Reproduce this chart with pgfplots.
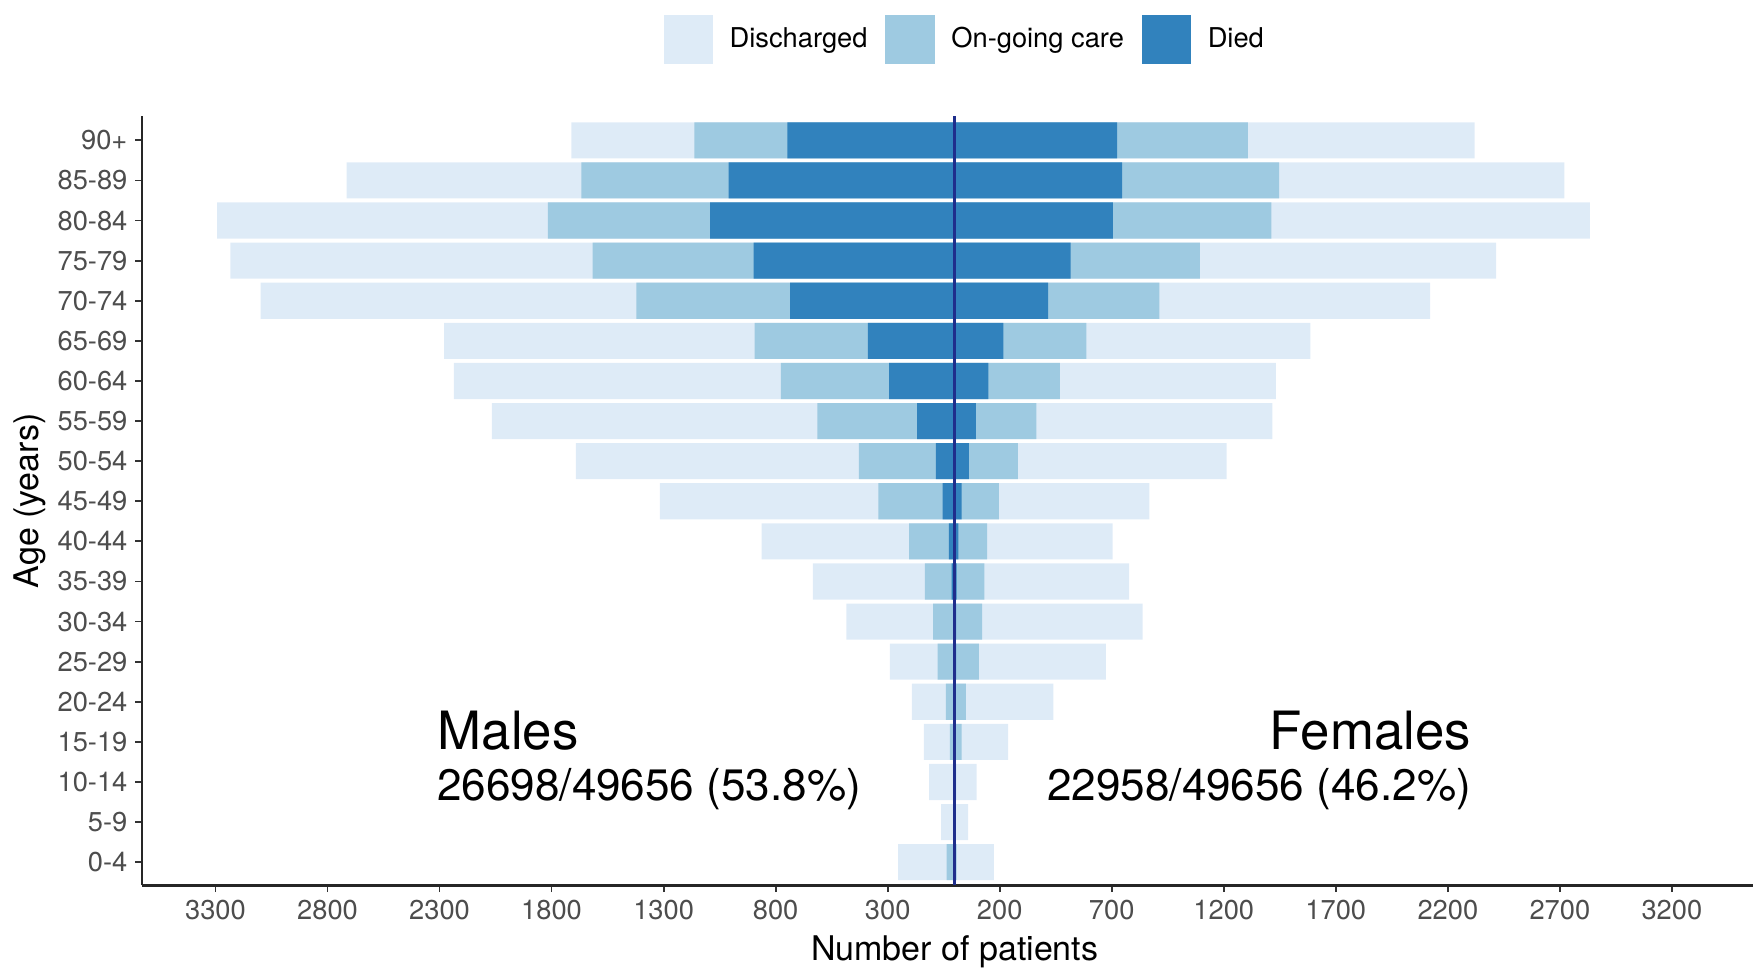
\documentclass[border=0pt]{standalone}
\usepackage{fontspec}
\setmainfont{TeX Gyre Heros}
\usepackage{pgfplots}
\pgfplotsset{compat=1.18}
\usepackage{pgfplotstable}
\definecolor{cdis}{HTML}{DEEBF7}
\definecolor{ccare}{HTML}{9ECAE1}
\definecolor{cdied}{HTML}{3182BD}
\definecolor{cline}{HTML}{1F2E8C}
\definecolor{tickgrey}{HTML}{4D4D4D}

% cumulative bar edges: died, died+on-going, total
\pgfplotstableread{
age died care total
0 3 37 253
1 1 5 62
2 2 8 115
3 3 22 138
4 4 40 192
5 5 77 290
6 8 97 484
7 15 134 634
8 27 204 863
9 55 342 1317
10 85 429 1692
11 169 614 2066
12 294 777 2236
13 388 894 2280
14 735 1422 3099
15 898 1617 3234
16 1092 1816 3293
17 1010 1667 2715
18 748 1163 1712
}\males

\pgfplotstableread{
age died care total
0 3 8 174
1 1 4 59
2 2 6 97
3 3 30 238
4 4 49 439
5 5 107 674
6 6 122 838
7 8 131 778
8 16 144 704
9 30 196 868
10 62 281 1213
11 94 364 1417
12 149 468 1432
13 216 587 1587
14 416 913 2121
15 517 1093 2415
16 705 1412 2834
17 746 1447 2720
18 724 1307 2320
}\females

\pgfplotsset{
  mybar/.style={xbar, bar width=0.9, bar shift=0pt, draw=none,
    legend image code/.code={\fill[##1] (0pt,-11pt) rectangle (22pt,11pt);}},
}

\begin{document}
\begin{tikzpicture}
\begin{axis}[
  name=main, at={(0,0)}, anchor=south west,
  scale only axis, width=720.5pt, height=344pt,
  xmin=-3628, xmax=3562, ymin=-0.58, ymax=18.6,
  axis lines*=left,
  axis line style={line width=1.1pt, color=black!85},
  xtick={-3300,-2800,-2300,-1800,-1300,-800,-300,200,700,1200,1700,2200,2700,3200},
  xticklabels={3300,2800,2300,1800,1300,800,300,200,700,1200,1700,2200,2700,3200},
  ytick={0,1,2,3,4,5,6,7,8,9,10,11,12,13,14,15,16,17,18},
  yticklabels={0-4,5-9,10-14,15-19,20-24,25-29,30-34,35-39,40-44,45-49,50-54,55-59,60-64,65-69,70-74,75-79,80-84,85-89,90+},
  tick align=outside, major tick length=3pt,
  tick style={line width=0.8pt, color=black!80},
  ticklabel style={font=\fontsize{12.2}{14}\selectfont, color=tickgrey},
  /pgf/number format/assume math mode=true,
  xlabel={Number of patients}, ylabel={Age (years)},
  label style={font=\fontsize{15.2}{18}\selectfont},
  xlabel style={at={(axis description cs:0.5045,0)}, anchor=center, yshift=-29.5pt},
  ylabel style={at={(axis description cs:-0.0694,0.5)}, anchor=center},
  legend columns=3,
  legend style={at={(0.5115,1.1003)}, anchor=center, draw=none, fill=none,
    font=\fontsize{12.2}{14}\selectfont,
    /tikz/every even column/.append style={column sep=6pt},
    /tikz/every odd column/.append style={column sep=5.5pt}},
]
\addplot[mybar, fill=cdis] table[x expr=-\thisrow{total}, y=age]{\males};
\addlegendentry{Discharged}
\addplot[mybar, fill=ccare] table[x expr=-\thisrow{care}, y=age]{\males};
\addlegendentry{On-going care}
\addplot[mybar, fill=cdied] table[x expr=-\thisrow{died}, y=age]{\males};
\addlegendentry{Died}
\addplot[mybar, fill=cdis, forget plot] table[x=total, y=age]{\females};
\addplot[mybar, fill=ccare, forget plot] table[x=care, y=age]{\females};
\addplot[mybar, fill=cdied, forget plot] table[x=died, y=age]{\females};
\addplot[cline, line width=1.4pt, forget plot] coordinates {(0,-0.58) (0,18.6)};

\node[anchor=base west, inner sep=0pt, font=\fontsize{23.6}{28}\selectfont] at (axis cs:-2310,2.81) {Males};
\node[anchor=base west, inner sep=0pt, font=\fontsize{19.7}{24}\selectfont] at (axis cs:-2312,1.53) {26698/49656 (53.8\%)};
\node[anchor=base east, inner sep=0pt, font=\fontsize{23.6}{28}\selectfont] at (axis cs:2305,2.81) {Females};
\node[anchor=base east, inner sep=0pt, font=\fontsize{19.7}{24}\selectfont] at (axis cs:2305,1.53) {22958/49656 (46.2\%)};
\end{axis}
\pgfresetboundingbox
\path[use as bounding box] ([xshift=-63.5pt,yshift=-38.5pt]main.south west) rectangle ([yshift=52pt]main.north east);
\end{tikzpicture}
\end{document}
